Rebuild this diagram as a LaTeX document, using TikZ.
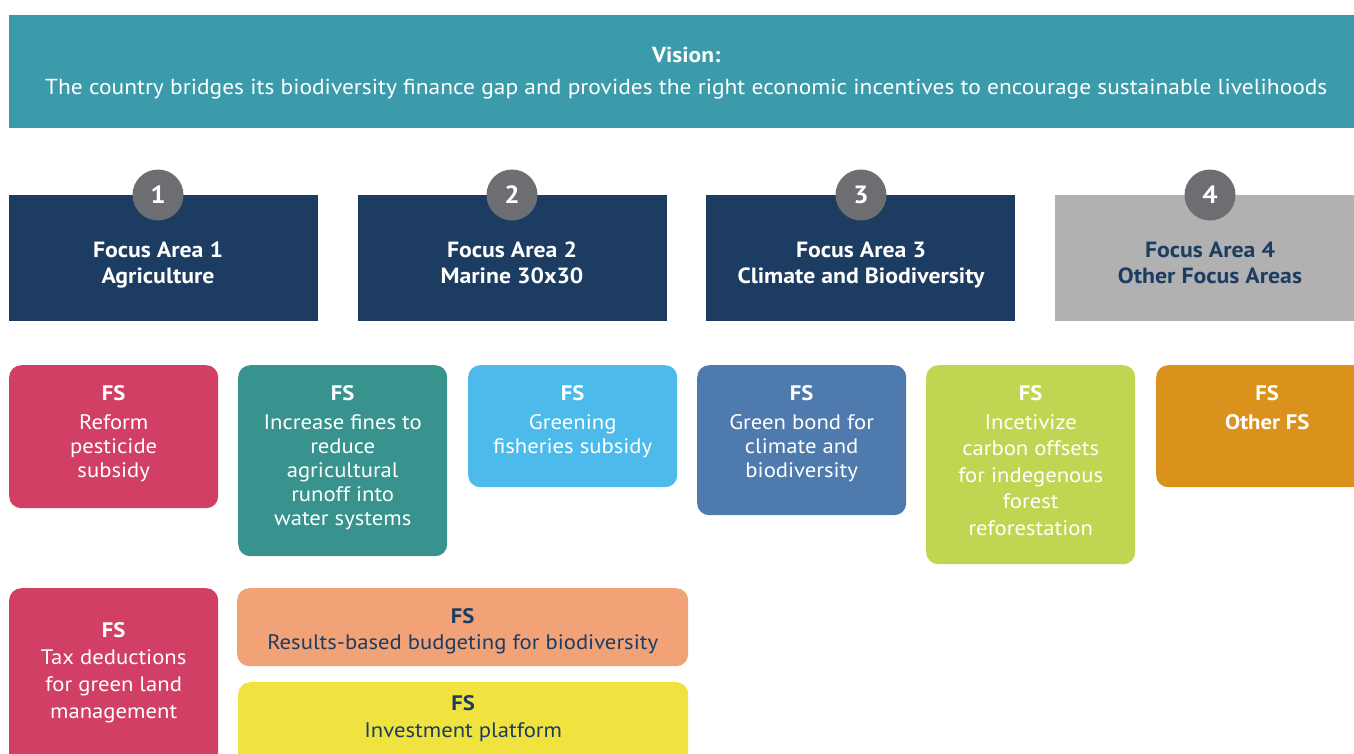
\documentclass[tikz,border=0pt]{standalone}
\usepackage{fontspec}
\setmainfont{PT Sans}[FakeStretch=1.08]
\usetikzlibrary{positioning}
\definecolor{visionteal}{HTML}{3B9BAA}
\definecolor{navy}{HTML}{1D3C62}
\definecolor{areagray}{HTML}{B1B1B1}
\definecolor{numgray}{HTML}{6D6E71}
\definecolor{fscrimson}{HTML}{D14064}
\definecolor{fsteal}{HTML}{38938E}
\definecolor{fssky}{HTML}{4CBAEA}
\definecolor{fssteel}{HTML}{4F7AAD}
\definecolor{fslime}{HTML}{C0D552}
\definecolor{fsorange}{HTML}{DA921D}
\definecolor{fssalmon}{HTML}{F2A277}
\definecolor{fsyellow}{HTML}{F1E33F}

\begin{document}
\begin{tikzpicture}[x=1pt,y=-1pt,
  areabox/.style={fill=#1,anchor=north west,inner sep=0pt,minimum width=309pt,minimum height=126pt},
  numdot/.style={circle,fill=numgray,inner sep=0pt,minimum size=51pt,text=white,font=\fontsize{25}{25}\selectfont\bfseries},
  areatext/.style={anchor=north,align=center,inner sep=0pt,text=white,font=\fontsize{22}{26}\selectfont\bfseries},
  fsbox/.style={fill=#1,rounded corners=12pt,anchor=north west,inner sep=0pt,minimum width=209pt},
  fstext/.style={anchor=north,align=center,inner sep=0pt,text=white,font=\fontsize{21}{24}\selectfont}]
\useasboundingbox (0,0) rectangle (1354,753);
\clip (0,0) rectangle (1354,753);
% vision banner
\node[fill=visionteal,anchor=north west,inner sep=0pt,minimum width=1360pt,minimum height=113pt] (vision) at (9,15) {};
\node[fstext,font=\fontsize{21.7}{32}\selectfont,below=31.5pt of vision.north,xshift=-3pt] (visiontext)
  {\textbf{Vision:}\\The country bridges its biodiversity finance gap and provides the right economic incentives to encourage sustainable livelihoods};
% focus areas
\node[areabox=navy] (area1) at (9,195) {};
\node[areabox=navy] (area2) at (358,195) {};
\node[areabox=navy] (area3) at (706,195) {};
\node[areabox=areagray,minimum width=312pt] (area4) at (1055,195) {};
\node[numdot] (num1) at (158,195) {1};
\node[numdot] (num2) at (512,195) {2};
\node[numdot] (num3) at (861,195) {3};
\node[numdot] (num4) at (1210,195) {4};
\node[areatext,below=21pt of num1.south] (area1text) {Focus Area 1\\Agriculture};
\node[areatext,below=21pt of num2.south] (area2text) {Focus Area 2\\Marine 30x30};
\node[areatext,below=21pt of num3.south] (area3text) {Focus Area 3\\Climate and Biodiversity};
\node[areatext,text=navy,below=21pt of num4.south] (area4text) {Focus Area 4\\Other Focus Areas};
% financial solutions, first row
\node[fsbox=fscrimson,minimum height=143pt] (fsPest) at (9,365) {};
\node[fstext,below=20.5pt of fsPest.north] (fsPesttext) {\textbf{FS}\\[4.5pt]Reform\\pesticide\\subsidy};
\node[fsbox=fsteal,minimum height=191pt] (fsFines) at (238,365) {};
\node[fstext,below=20.5pt of fsFines.north] (fsFinestext) {\textbf{FS}\\[4.5pt]Increase fines to\\reduce\\agricultural\\runoff into\\water systems};
\node[fsbox=fssky,minimum height=122pt] (fsFish) at (468,365) {};
\node[fstext,below=20.5pt of fsFish.north] (fsFishtext) {\textbf{FS}\\[4.5pt]Greening\\fisheries subsidy};
\node[fsbox=fssteel,minimum height=150pt] (fsBond) at (697,365) {};
\node[fstext,below=20.5pt of fsBond.north] (fsBondtext) {\textbf{FS}\\[4.5pt]Green bond for\\climate and\\biodiversity};
\node[fsbox=fslime,minimum height=199pt] (fsCarbon) at (926,365) {};
\node[fstext,font=\fontsize{21}{26.5}\selectfont,below=20.5pt of fsCarbon.north] (fsCarbontext) {\textbf{FS}\\[2pt]Incetivize\\carbon offsets\\for indegenous\\forest\\reforestation};
\node[fsbox=fsorange,minimum width=222pt,minimum height=122pt] (fsOther) at (1156,365) {};
\node[fstext,font=\fontsize{21}{26.5}\selectfont\bfseries,below=20.5pt of fsOther.north] (fsOthertext) {FS\\[2pt]Other FS};
% financial solutions, second row
\node[fsbox=fscrimson,minimum height=180pt] (fsTax) at (9,588) {};
\node[fstext,font=\fontsize{21}{27}\selectfont,below=34.5pt of fsTax.north] (fsTaxtext) {\textbf{FS}\\Tax deductions\\for green land\\management};
\node[fsbox=fssalmon,minimum width=451pt,minimum height=78pt] (fsBudget) at (237,588) {};
\node[fstext,text=navy,font=\fontsize{21}{26}\selectfont,below=20pt of fsBudget.north] (fsBudgettext) {\textbf{FS}\\Results-based budgeting for biodiversity};
\node[fsbox=fsyellow,minimum width=450pt,minimum height=90pt] (fsInvest) at (238,682) {};
\node[fstext,text=navy,font=\fontsize{21}{27}\selectfont,below=13.5pt of fsInvest.north] (fsInvesttext) {\textbf{FS}\\Investment platform};
\end{tikzpicture}
\end{document}
